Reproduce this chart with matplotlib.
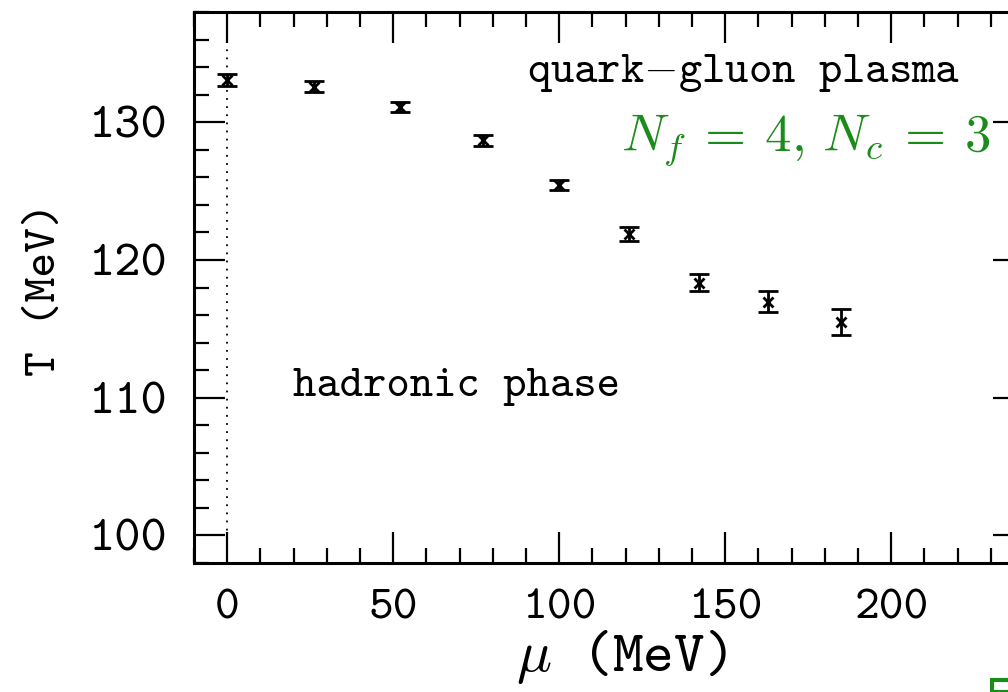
import matplotlib
matplotlib.use("Agg")
import matplotlib.pyplot as plt
from matplotlib.ticker import MultipleLocator
from matplotlib.patches import Rectangle

# Data
mu = [0, 26, 52, 77, 100, 121, 142, 163, 185]
T = [133.08, 132.56, 131.08, 128.70, 125.45, 121.89, 118.35, 116.96, 115.52]
T_err = [0.45, 0.40, 0.37, 0.40, 0.38, 0.50, 0.61, 0.76, 0.94]

x_ticks = [0, 50, 100, 150, 200]
y_ticks = [100, 110, 120, 130]

plt.rcParams['mathtext.fontset'] = 'cm'
TT = ['cmtt10', 'DejaVu Sans']

fig = plt.figure(figsize=(10.08, 6.92), dpi=100)
ax = fig.add_axes([194/1008, 1 - 563/692, (1024-194)/1008, (563-12)/692])

ax.axvline(0, color='black', lw=1.3, ls=(0, (1, 3.5)), zorder=1)

ax.errorbar(mu, T, yerr=T_err, fmt='x', color='black', ms=7, mew=2,
            elinewidth=2, capsize=7, capthick=3, zorder=3)

ax.set_xlim(-10, 240)
ax.set_ylim(98, 138)
ax.set_xticks(x_ticks)
ax.set_yticks(y_ticks)
ax.xaxis.set_minor_locator(MultipleLocator(10))
ax.yaxis.set_minor_locator(MultipleLocator(2))

ax.tick_params(which='both', direction='in', top=True, right=True, width=1.6)
ax.tick_params(which='major', length=22)
ax.tick_params(which='minor', length=11)
ax.tick_params(axis='x', which='major', pad=19)
ax.tick_params(axis='y', which='major', pad=19)
for s in ax.spines.values():
    s.set_linewidth(2.2)

ax.set_xticklabels([str(v) for v in x_ticks], fontsize=34, family=TT)
ax.set_yticklabels([str(v) for v in y_ticks], fontsize=36, family=TT)

ax.set_xlabel(r'$\mu$ (MeV)', fontsize=42, family=TT)
ax.xaxis.set_label_coords((621-194)/830, (563-628)/551)
ax.set_ylabel('T (MeV)', fontsize=34, family=TT)
ax.yaxis.set_label_coords((66-194)/830, (563-289)/551)

ax.text(155.6, 132.94, r'quark$-$gluon plasma', fontsize=32, family=TT,
        ha='center', va='baseline')
ax.text(69, 110.12, 'hadronic phase', fontsize=32, family=TT,
        ha='center', va='baseline')
ax.text(174.3, 127.88, r'$N_f\:=\:4,\,N_c\:=\:3$', fontsize=38,
        color='#1b8c1b', ha='center', va='baseline')

fig.patches.append(Rectangle((992/1008, 0), 0.05, 12/692, transform=fig.transFigure,
                             fill=False, edgecolor='#1b8c1b', lw=3, clip_on=False))

fig.savefig('out.png', dpi=100)
